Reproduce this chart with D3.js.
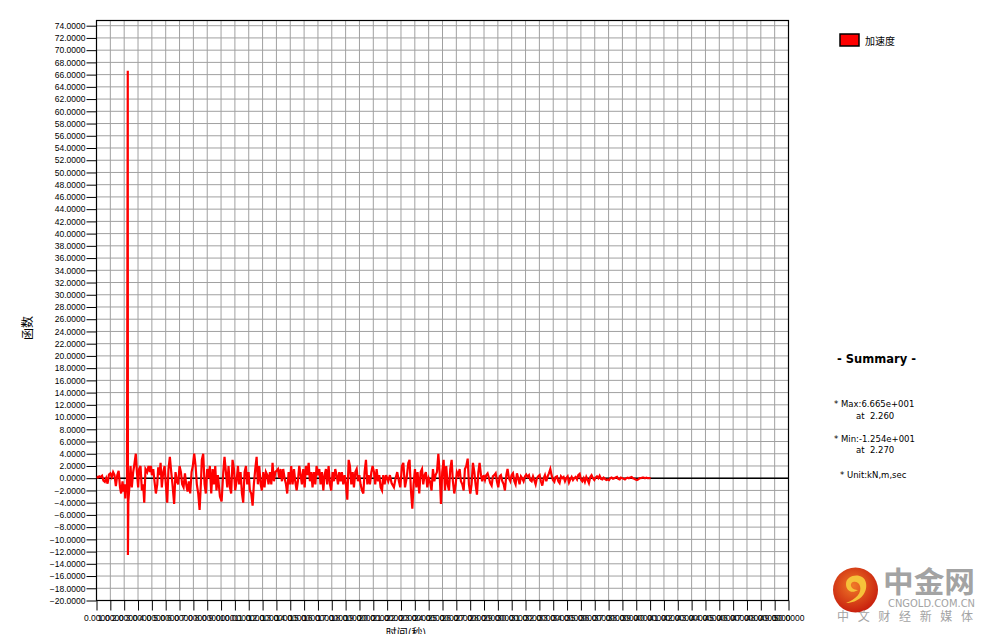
<!DOCTYPE html>
<html>
<head>
  <script src="https://d3js.org/d3.v7.min.js"></script>
  <meta charset="utf-8">
  <title>加速度时程</title>
  <style>
    body {margin: 0; background: #fff;}
    svg {display: block; font-family: "DejaVu Sans", sans-serif;}
    .grid line {stroke: #a0a0a0; stroke-width: 1;}
    .axis text {font-size: 8.5px; fill: #000;}
    .axis line, .axis path {stroke: #000;}
    .sum {white-space: pre;}
  </style>
</head>
<body>
  <div id="chart"></div>

  <script>
    /* Data: time (s) and acceleration, one row per second */
    const times = [
      0.0,0.1,0.2,0.3,0.4,0.5,0.6,0.7,0.8,0.9,
      1.0,1.1,1.2,1.3,1.4,1.5,1.6,1.7,1.78,1.88,1.95,
      2.02,2.08,2.14,2.2,2.26,2.27,2.3,2.36,2.46,2.55,2.65,2.72,2.84,2.92,
      3.01,3.08,3.18,3.28,3.37,3.45,3.54,3.66,3.76,3.86,3.93,
      4.0,4.1,4.19,4.29,4.39,4.46,4.55,4.63,4.72,4.82,4.92,
      5.01,5.11,5.2,5.3,5.4,5.49,5.61,5.71,5.81,5.9,
      6.0,6.1,6.19,6.29,6.39,6.48,6.58,6.67,6.77,6.87,6.96,
      7.06,7.16,7.25,7.35,7.45,7.54,7.61,7.71,7.81,7.9,
      8.0,8.1,8.19,8.29,8.39,8.48,8.58,8.67,8.77,8.92,
      9.04,9.16,9.25,9.35,9.45,9.54,9.64,9.73,9.83,9.93,
      10.02,10.12,10.22,10.31,10.41,10.51,10.6,10.7,10.8,10.89,10.99,
      11.08,11.18,11.28,11.37,11.47,11.57,11.66,11.76,11.86,11.95,
      12.05,12.14,12.24,12.34,12.43,12.53,12.63,12.72,12.82,12.92,
      13.01,13.11,13.2,13.3,13.4,13.49,13.59,13.69,13.78,13.88,13.98,
      14.07,14.17,14.27,14.36,14.46,14.55,14.65,14.75,14.84,14.94,
      15.04,15.13,15.23,15.33,15.42,15.52,15.61,15.71,15.81,15.9,
      16.0,16.1,16.19,16.29,16.39,16.48,16.58,16.67,16.77,16.87,16.96,
      17.06,17.16,17.25,17.35,17.45,17.54,17.64,17.73,17.83,17.93,
      18.02,18.12,18.22,18.31,18.41,18.51,18.6,18.7,18.8,18.89,18.99,
      19.08,19.18,19.28,19.37,19.47,19.57,19.66,19.76,19.86,19.95,
      20.05,20.14,20.24,20.34,20.43,20.53,20.63,20.72,20.82,20.92,
      21.08,21.2,21.32,21.49,21.61,21.73,21.85,21.95,
      22.07,22.17,22.29,22.41,22.53,22.62,22.72,22.82,22.91,
      23.01,23.11,23.2,23.32,23.42,23.52,23.61,23.71,23.8,23.9,
      24.0,24.09,24.21,24.31,24.41,24.5,24.6,24.7,24.79,24.89,24.98,
      25.08,25.18,25.27,25.37,25.47,25.56,25.66,25.75,25.85,25.95,
      26.04,26.14,26.24,26.33,26.43,26.53,26.62,26.72,26.82,26.91,
      27.01,27.1,27.2,27.3,27.39,27.49,27.59,27.68,27.78,27.87,27.97,
      28.07,28.16,28.26,28.36,28.45,28.55,28.64,28.74,28.84,28.93,
      29.03,29.13,29.22,29.32,29.42,29.51,29.61,29.7,29.8,29.9,29.99,
      30.09,30.19,30.28,30.38,30.47,30.57,30.67,30.76,30.86,30.96,
      31.05,31.15,31.25,31.34,31.44,31.54,31.63,31.73,31.82,31.92,
      32.02,32.11,32.21,32.31,32.4,32.5,32.6,32.69,32.79,32.88,32.98,
      33.08,33.17,33.27,33.37,33.46,33.56,33.66,33.75,33.85,33.94,
      34.04,34.14,34.23,34.33,34.43,34.52,34.62,34.72,34.81,34.91,
      35.0,35.1,35.2,35.29,35.39,35.49,35.58,35.68,35.77,35.87,35.97,
      36.06,36.16,36.26,36.35,36.45,36.55,36.64,36.74,36.84,36.93,
      37.03,37.12,37.22,37.32,37.41,37.51,37.61,37.7,37.8,37.89,37.99,
      38.09,38.18,38.28,38.38,38.47,38.57,38.67,38.76,38.86,38.95,
      39.05,39.15,39.24,39.34,39.44,39.53,39.63,39.73,39.82,39.92,40.04
    ];
    const accel = [
      0.3,0.1,0.3,0.2,0.4,-0.4,-0.6,0.0,-0.9,0.6,
      0.8,0.2,1.0,0.5,-1.3,0.5,1.2,-1.5,-2.5,-0.5,-2.2,
      -1.0,-3.3,-1.0,-2.2,66.65,-12.54,-3.8,-2.0,2.0,-1.5,1.0,2.0,4.0,1.0,
      -1.5,1.5,2.0,-2.0,-1.0,-4.0,1.5,1.0,2.0,1.0,2.0,
      0.5,1.5,-0.5,-2.5,-1.0,1.8,0.5,2.5,-1.5,1.0,2.0,
      -1.0,-4.0,1.5,3.5,1.0,-1.0,-4.2,1.0,-0.5,-1.0,
      2.0,1.0,-1.0,-1.5,0.8,-1.0,-2.2,-0.5,-2.5,1.0,2.0,
      4.0,2.0,-1.0,-2.5,-5.2,-1.0,3.0,4.0,-1.0,-2.5,
      1.5,0.0,2.0,-2.5,1.5,-1.0,2.0,-2.0,0.5,-3.0,
      -3.8,1.0,3.5,1.0,-1.5,2.0,-1.5,-2.5,3.0,1.5,
      -2.0,-0.5,2.0,-1.0,1.0,-2.5,-4.0,1.0,2.0,-1.0,1.0,
      -2.0,-2.5,-4.5,-1.0,1.5,3.5,-1.0,2.0,-1.0,-2.0,
      1.0,-1.5,1.0,0.5,-1.0,1.0,-1.0,2.5,-0.5,1.0,
      1.2,1.5,0.0,1.5,-0.5,1.5,0.0,-1.0,-2.5,1.0,-1.0,
      2.0,-1.0,1.5,-0.5,-2.0,-0.5,2.0,0.5,-1.0,1.5,
      -1.5,2.0,0.5,2.5,-0.5,1.0,-1.5,1.0,-1.0,2.0,
      0.5,1.5,-1.0,1.0,-2.0,0.5,1.5,-1.0,2.0,-1.0,-2.0,
      1.0,-0.5,1.5,0.5,-1.0,1.0,-0.5,1.0,-1.0,0.5,
      -1.0,-3.5,3.0,2.0,-1.0,1.0,-1.5,1.0,1.5,-0.5,0.5,
      -1.0,-2.0,-2.5,1.0,3.0,-1.0,0.5,-1.0,1.0,2.0,
      1.0,-1.0,1.5,-0.5,0.5,-1.5,-2.0,0.5,-1.0,0.5,
      -0.5,0.5,-0.8,-1.5,0.0,1.0,-0.5,-1.5,
      2.0,2.5,-1.5,0.0,2.5,3.0,-2.0,-5.0,-1.0,
      1.5,-1.5,1.0,-2.5,1.0,1.5,-1.0,0.5,1.0,-1.5,
      0.0,-0.5,-2.0,1.5,-0.5,0.5,1.0,4.0,1.0,-4.2,1.0,
      3.0,-2.0,2.0,-1.0,-2.0,1.5,3.0,-0.5,-2.5,-1.0,
      1.0,0.5,1.5,-0.5,-1.0,-2.0,1.5,2.0,3.2,-1.0,
      -2.5,-1.0,2.5,1.0,-1.0,-2.7,1.0,2.5,0.5,-0.5,0.5,
      -0.3,0.5,0.8,0.0,-0.8,-1.2,0.3,0.5,0.8,-0.5,
      -1.5,0.3,0.5,-0.5,-1.0,-2.0,0.5,1.5,0.0,-0.5,0.5,
      0.8,-0.5,-1.0,0.8,0.0,-1.0,0.3,0.0,-0.5,0.3,
      0.6,0.2,0.5,-0.3,-0.5,0.3,-0.3,-1.0,0.0,0.3,
      0.5,-0.5,-1.2,0.0,0.5,-0.5,0.3,0.8,1.5,0.5,-0.3,
      -0.6,0.2,0.3,-0.5,-0.8,0.3,0.0,0.2,-0.5,0.0,
      0.3,-0.7,-0.2,0.2,-0.3,0.0,0.2,-0.2,0.5,0.7,
      -0.2,-0.5,0.0,-0.6,0.2,-0.3,-0.8,0.2,0.5,0.0,-0.3,
      0.1,0.3,0.0,0.4,-0.1,-0.2,0.1,-0.1,-0.3,-0.2,
      -0.3,0.0,0.1,-0.1,0.0,0.1,0.2,-0.1,-0.2,0.1,0.0,
      -0.1,-0.2,0.0,0.1,0.0,0.1,0.2,0.0,-0.1,-0.2,
      -0.3,-0.2,0.0,0.0,0.1,0.1,0.0,0.1,0.0,0.0,0.0
    ];
    if (times.length !== accel.length) console.error("length mismatch", times.length, accel.length);

    /* Axes ranges and tick values */
    const xDomain = [0, 50];
    const yDomain = [-20, 74.85];
    const xTicks = d3.range(0, 51, 1);
    const yTicks = d3.range(-20, 75, 2);

    const seriesName = "加速度";
    const summaryLines = ["* Max:6.665e+001", "at  2.260", "* Min:-1.254e+001", "at  2.270", "* Unit:kN,m,sec"];

    /* Canvas */
    const W = 990, H = 634;
    const plot = {left: 96.5, right: 788.5, top: 20.5, bottom: 600.5};

    const svg = d3.select("#chart").append("svg")
                  .attr("width", W).attr("height", H);

    svg.append("rect").attr("width", W).attr("height", H).attr("fill", "#fff");

    const x = d3.scaleLinear().domain(xDomain).range([plot.left, plot.right]);
    const y = d3.scaleLinear().domain(yDomain).range([plot.bottom, plot.top]);

    /* Grid */
    const grid = svg.append("g").attr("class", "grid");
    grid.selectAll(".gx").data(xTicks).enter().append("line")
        .attr("x1", d => x(d)).attr("x2", d => x(d))
        .attr("y1", plot.top).attr("y2", plot.bottom);
    grid.selectAll(".gy").data(yTicks).enter().append("line")
        .attr("x1", plot.left).attr("x2", plot.right)
        .attr("y1", d => y(d)).attr("y2", d => y(d));

    /* Frame */
    svg.append("rect")
       .attr("x", plot.left).attr("y", plot.top)
       .attr("width", plot.right - plot.left).attr("height", plot.bottom - plot.top)
       .attr("fill", "none").attr("stroke", "#000").attr("stroke-width", 1.2);

    /* Zero line */
    svg.append("line")
       .attr("x1", plot.left).attr("x2", plot.right)
       .attr("y1", y(0)).attr("y2", y(0))
       .attr("stroke", "#000").attr("stroke-width", 1.5);

    /* Axes */
    const fmt = d3.format(".4f");
    svg.append("g").attr("class", "axis")
       .attr("transform", `translate(${plot.left},0)`)
       .call(d3.axisLeft(y).tickValues(yTicks).tickFormat(fmt).tickSize(10).tickSizeOuter(0).tickPadding(1))
       .call(g => g.select(".domain").remove());

    svg.append("g").attr("class", "axis")
       .attr("transform", `translate(0,${plot.bottom})`)
       .call(d3.axisBottom(x).tickValues(xTicks).tickFormat(fmt).tickSize(10).tickSizeOuter(0).tickPadding(4))
       .call(g => g.select(".domain").remove());

    /* Series */
    svg.append("clipPath").attr("id", "clip")
       .append("rect").attr("x", plot.left).attr("y", plot.top)
       .attr("width", plot.right - plot.left).attr("height", plot.bottom - plot.top);

    const line = d3.line().x(d => x(d[0])).y(d => y(d[1]));
    svg.append("path")
       .datum(d3.zip(times, accel))
       .attr("clip-path", "url(#clip)")
       .attr("d", line)
       .attr("fill", "none")
       .attr("stroke", "#ff0000")
       .attr("stroke-width", 2.2)
       .attr("stroke-linejoin", "miter");

    /* Axis titles */
    svg.append("text")
       .attr("x", 406).attr("y", 637)
       .attr("text-anchor", "middle")
       .style("font-family", "'Noto Sans CJK SC'").style("font-size", "11px")
       .text("时间(秒)");

    svg.append("text")
       .attr("transform", "translate(32,328) rotate(-90)")
       .attr("text-anchor", "middle")
       .style("font-family", "'Noto Sans CJK SC'").style("font-size", "12px")
       .text("函数");

    /* Legend */
    svg.append("rect")
       .attr("x", 840).attr("y", 34).attr("width", 19).attr("height", 12)
       .attr("fill", "#ff0000").attr("stroke", "#000").attr("stroke-width", 1.5);
    svg.append("text")
       .attr("x", 865).attr("y", 44.5)
       .style("font-family", "'Noto Sans CJK SC'").style("font-size", "10px")
       .text(seriesName);

    /* Summary */
    svg.append("text")
       .attr("x", 837).attr("y", 363)
       .style("font-size", "11.5px").style("font-weight", "bold")
       .text("- Summary -");

    const sumX = [834, 856, 834, 856, 840];
    const sumY = [407, 418.5, 441.5, 453, 478];
    svg.selectAll(".sum").data(summaryLines).enter().append("text")
       .attr("class", "sum")
       .attr("xml:space", "preserve")
       .attr("x", (d, i) => sumX[i]).attr("y", (d, i) => sumY[i])
       .style("font-size", "8.5px")
       .text(d => d);

    /* Watermark */
    const defs = svg.append("defs");
    const grad = defs.append("radialGradient").attr("id", "logo").attr("cx", "45%").attr("cy", "40%").attr("r", "60%");
    grad.append("stop").attr("offset", "0%").attr("stop-color", "#f07a28");
    grad.append("stop").attr("offset", "100%").attr("stop-color", "#c8200e");

    const wm = svg.append("g").attr("class", "watermark");
    wm.append("circle").attr("cx", 855.5).attr("cy", 590).attr("r", 22.5).attr("fill", "url(#logo)");
    wm.append("path")
      .attr("d", "M846,584 C846,574 864,572 866,583 C868,594 858,603 846,603 C856,599 862,593 860,586 C858,580 850,581 851,586 C852,590 858,590 858,590 C852,594 846,591 846,584 Z")
      .attr("fill", "#f6c23a");
    wm.append("text").attr("x", 883).attr("y", 593)
      .attr("textLength", 92).attr("lengthAdjust", "spacingAndGlyphs")
      .style("font-family", "'Noto Sans CJK SC'").style("font-size", "29px").style("font-weight", "bold")
      .attr("fill", "#a3a3a3").text("中金网");
    wm.append("text").attr("x", 888).attr("y", 607)
      .attr("textLength", 87).attr("lengthAdjust", "spacingAndGlyphs")
      .style("font-size", "10px").attr("fill", "#a3a3a3").text("CNGOLD.COM.CN");
    wm.append("text").attr("x", 837).attr("y", 620.5)
      .attr("textLength", 136).attr("lengthAdjust", "spacing")
      .style("font-family", "'Noto Sans CJK SC'").style("font-size", "12px")
      .attr("fill", "#a3a3a3").text("中文财经新媒体");
  </script>
</body>
</html>
